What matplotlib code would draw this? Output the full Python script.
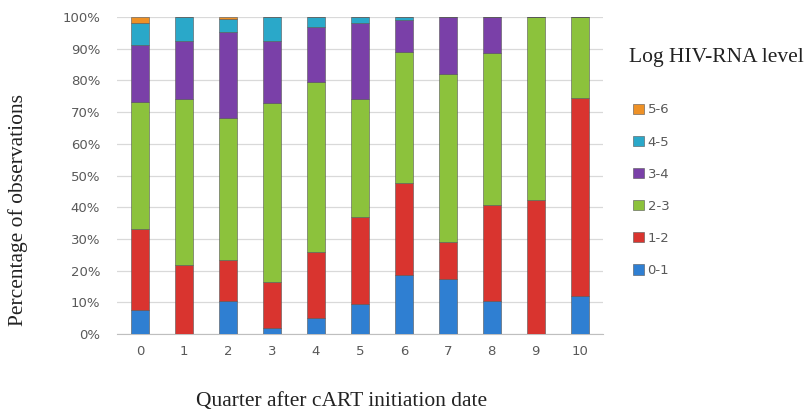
import matplotlib
matplotlib.use("Agg")
import matplotlib.pyplot as plt
import numpy as np

quarters = ["0", "1", "2", "3", "4", "5", "6", "7", "8", "9", "10"]
levels = ["0-1", "1-2", "2-3", "3-4", "4-5", "5-6"]
colors = ["#2F7FD2", "#D9342F", "#8CC23C", "#7A40A8", "#2AA8C9", "#EE9126"]

lvl_0_1 = [7.6, 0.0, 10.4, 1.8, 5.0, 9.5, 18.6, 17.3, 10.5, 0.0, 12.0]
lvl_1_2 = [25.6, 21.8, 12.9, 14.7, 21.0, 27.3, 29.1, 11.8, 30.2, 42.3, 62.5]
lvl_2_3 = [40.1, 52.2, 44.7, 56.5, 53.6, 37.2, 41.3, 52.9, 48.0, 57.7, 25.5]
lvl_3_4 = [17.9, 18.5, 27.4, 19.5, 17.4, 24.0, 10.0, 18.0, 11.3, 0.0, 0.0]
lvl_4_5 = [6.8, 7.5, 3.9, 7.5, 3.0, 2.0, 1.0, 0.0, 0.0, 0.0, 0.0]
lvl_5_6 = [2.0, 0.0, 0.7, 0.0, 0.0, 0.0, 0.0, 0.0, 0.0, 0.0, 0.0]
series = [lvl_0_1, lvl_1_2, lvl_2_3, lvl_3_4, lvl_4_5, lvl_5_6]

fig = plt.figure(figsize=(8.11, 4.16), dpi=100)
ax = fig.add_axes([0.144, 0.197, 0.5995, 0.762])

x = np.arange(len(quarters))
bottom = np.zeros(len(quarters))
handles = []
for vals, lab, col in zip(series, levels, colors):
    v = np.array(vals)
    b = ax.bar(x, v, width=0.41, bottom=bottom, color=col, label=lab,
               edgecolor="#555555", linewidth=0.4, zorder=3)
    handles.append(b)
    bottom += v

ax.set_ylim(0, 100)
ax.set_xlim(-0.53, 10.53)
ax.set_yticks(np.arange(0, 101, 10))
ax.set_yticklabels([f"{t}%" for t in range(0, 101, 10)])
ax.set_xticks(x)
ax.set_xticklabels(quarters)
ax.yaxis.grid(True, color="#D9D9D9", linewidth=0.9, zorder=0)
ax.set_axisbelow(True)
for s in ["top", "right", "left"]:
    ax.spines[s].set_visible(False)
ax.spines["bottom"].set_color("#BFBFBF")
ax.tick_params(axis="both", length=0, labelsize=9.5, colors="#595959", pad=8)
ax.tick_params(axis="y", pad=12)

ax.set_ylabel("Percentage of observations", family="Liberation Serif",
              fontsize=15.5, color="#222222", va="center", ha="center")
ax.yaxis.set_label_coords(-0.204, 0.391)
ax.set_xlabel("Quarter after cART initiation date", family="Liberation Serif",
              fontsize=15.5, color="#222222", va="center", ha="center")
ax.xaxis.set_label_coords(0.463, -0.213)

fig.text(0.775, 0.862, "Log HIV-RNA level", family="Liberation Serif",
         fontsize=15.5, color="#222222", va="center", ha="left")

leg = fig.legend(handles[::-1], levels[::-1], loc="upper left",
                 bbox_to_anchor=(0.766, 0.78), frameon=False,
                 fontsize=9.5, labelspacing=1.45, handlelength=0.8,
                 handleheight=0.8, handletextpad=0.3)
for t in leg.get_texts():
    t.set_color("#595959")

fig.savefig("out.png", dpi=100)
